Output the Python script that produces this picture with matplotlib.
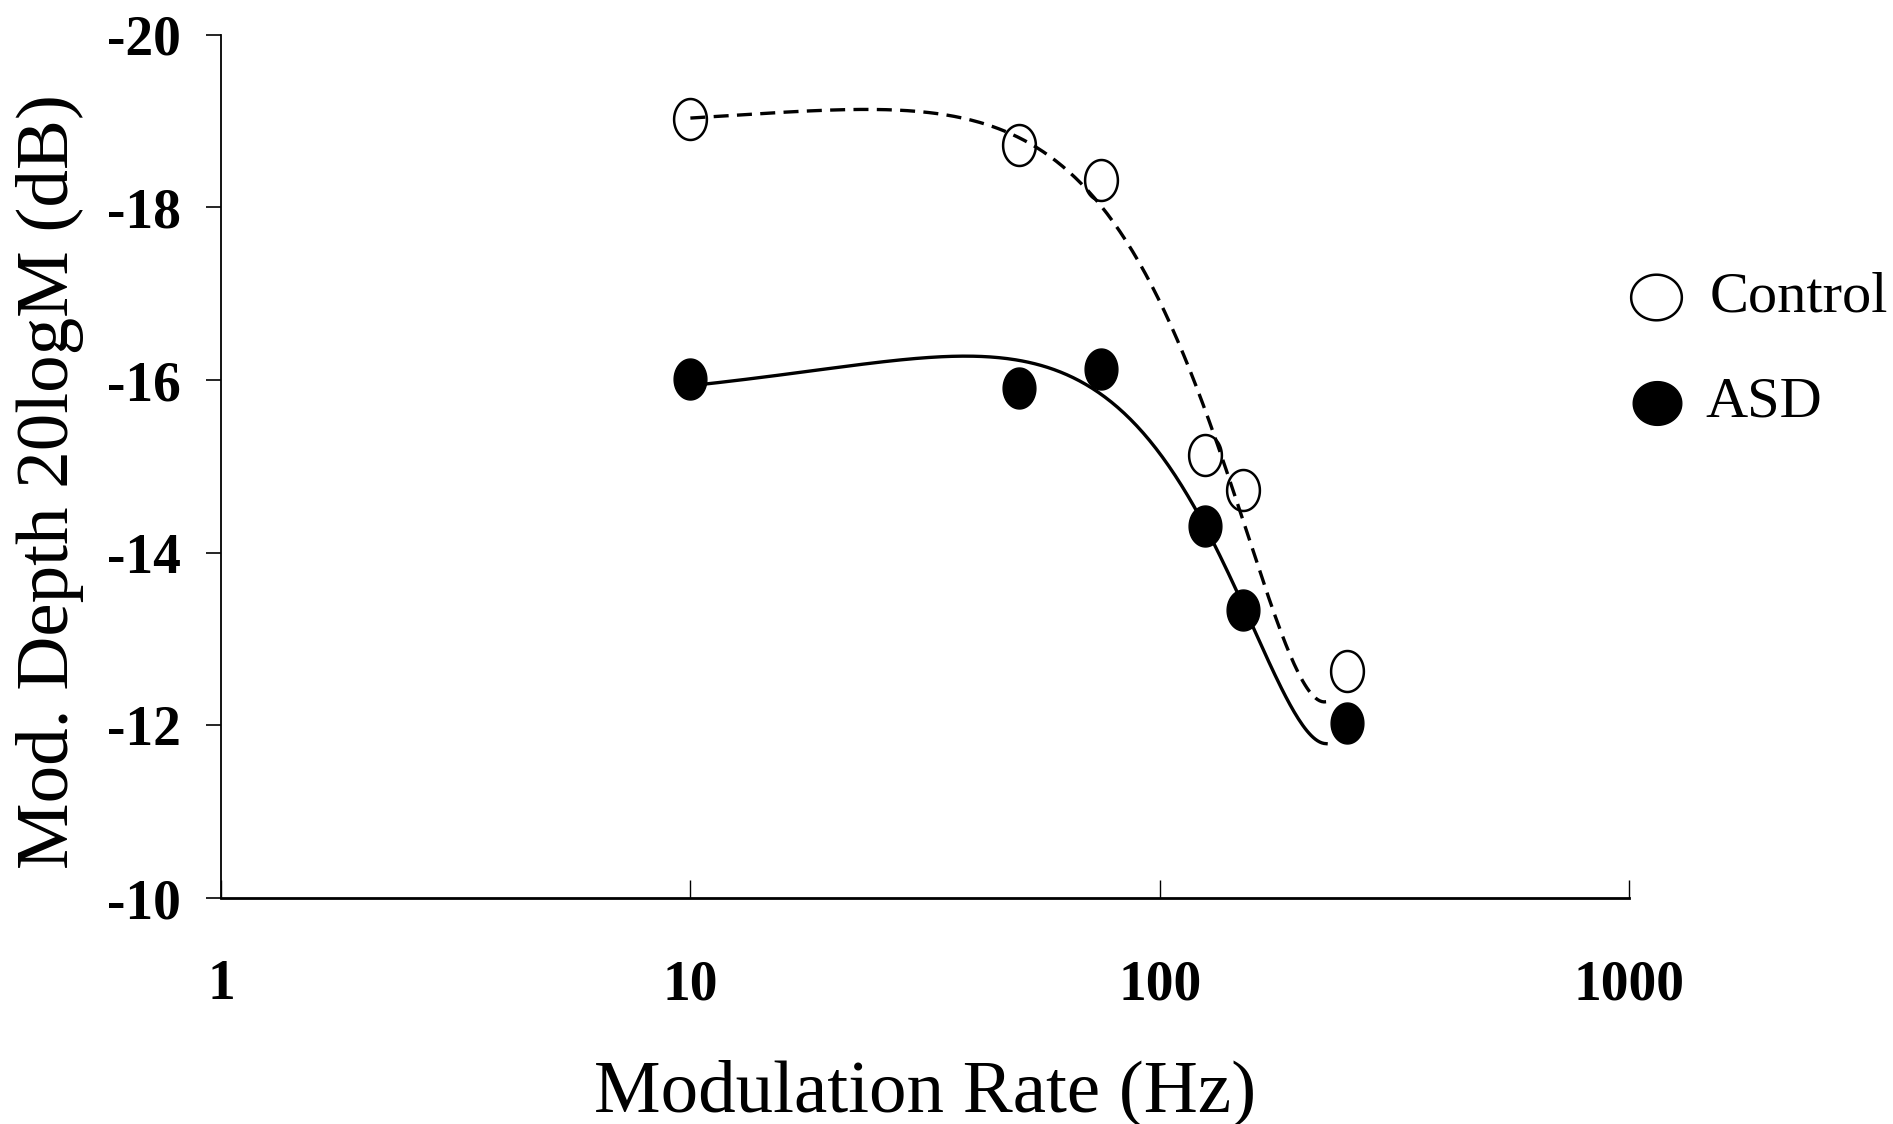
import numpy as np
import matplotlib.pyplot as plt
from matplotlib.path import Path

plt.rcParams['font.family'] = ['Liberation Serif', 'DejaVu Serif']
plt.rcParams['axes.unicode_minus'] = False

# -------------------------------
# DATA
# -------------------------------
rates = [10, 50, 75, 125, 150, 250]
control = [-19.02, -18.72, -18.32, -15.13, -14.73, -12.63]
asd = [-16.01, -15.91, -16.13, -14.31, -13.34, -12.03]

x_ticks = [1, 10, 100, 1000]
y_ticks = [-20, -18, -16, -14, -12, -10]

# fitted trend lines (cubic in modulation rate)
fit_end = 226
fit_x = np.logspace(np.log10(rates[0]), np.log10(fit_end), 300)
control_fit = np.polyval(np.polyfit(rates, control, 3), fit_x)
asd_fit = np.polyval(np.polyfit(rates, asd, 3), fit_x)


def ellipse(w, h):
    t = np.linspace(0, 2 * np.pi, 80)
    return Path(np.column_stack([w * np.cos(t), h * np.sin(t)]), closed=True)


point_marker = ellipse(0.8, 1.0)
legend_marker = ellipse(1.0, 0.9)

# -------------------------------
# PLOT
# -------------------------------
fig = plt.figure(figsize=(18.93, 11.24), dpi=100)
ax = fig.add_axes([0.1167, 0.201, 0.744, 0.768])

ax.plot(fit_x, control_fit, color='black', lw=2.4, ls=(0, (4.5, 2.5)), zorder=2)
ax.plot(fit_x, asd_fit, color='black', lw=2.4, zorder=2)

ax.plot(rates, control, ls='none', marker=point_marker, markersize=29.5,
        markerfacecolor='none', markeredgecolor='black', markeredgewidth=1.8, zorder=3)
ax.plot(rates, asd, ls='none', marker=point_marker, markersize=29.5,
        markerfacecolor='black', markeredgecolor='black', zorder=3)

ax.set_xscale('log')
ax.set_xlim(1, 1000)
ax.set_ylim(-10, -20)

ax.set_xticks(x_ticks)
ax.set_xticklabels([str(v) for v in x_ticks])
ax.minorticks_off()
ax.set_yticks(y_ticks)
ax.set_yticklabels([str(v) for v in y_ticks])

for lab in ax.get_xticklabels() + ax.get_yticklabels():
    lab.set_fontweight('bold')
    lab.set_fontsize(40)

ax.tick_params(axis='x', direction='in', length=13, width=1, pad=44)
ax.tick_params(axis='y', direction='out', length=11, width=1.2, pad=18)

for side in ['top', 'right']:
    ax.spines[side].set_visible(False)
ax.spines['bottom'].set_linewidth(2)
ax.spines['left'].set_linewidth(1.3)

ax.set_xlabel('Modulation Rate (Hz)', fontsize=54, labelpad=35)
ax.set_ylabel('Mod. Depth 20logM (dB)', fontsize=54)
ax.yaxis.set_label_coords(-0.097, 0.482)

# legend
ax.plot(1.0189, 0.696, transform=ax.transAxes, clip_on=False, ls='none',
        marker=legend_marker, markersize=36.5, markerfacecolor='none',
        markeredgecolor='black', markeredgewidth=1.8)
ax.plot(1.0196, 0.574, transform=ax.transAxes, clip_on=False, ls='none',
        marker=legend_marker, markersize=35, markerfacecolor='black',
        markeredgecolor='black')
ax.text(1.0568, 0.696, 'Control', transform=ax.transAxes, fontsize=42, va='center')
ax.text(1.0540, 0.574, 'ASD', transform=ax.transAxes, fontsize=42, va='center')

plt.savefig('out.png', dpi=100)
